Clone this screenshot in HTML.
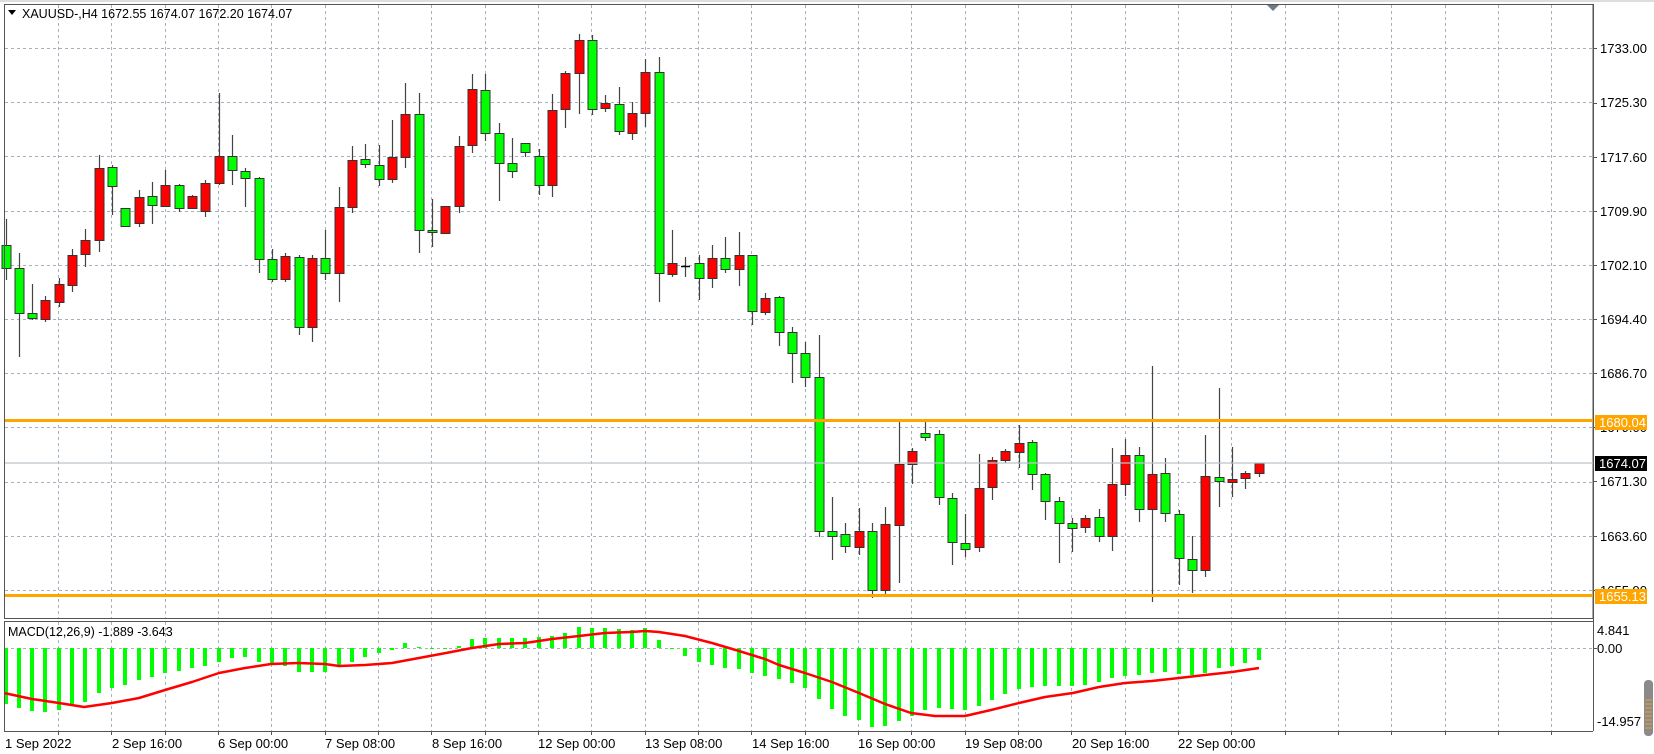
<!DOCTYPE html>
<html><head><meta charset="utf-8"><style>
html,body{margin:0;padding:0;background:#fff;}
svg{display:block;font-family:"Liberation Sans",sans-serif;}
</style></head><body>
<svg id="s" width="1654" height="754" viewBox="0 0 1654 754" xmlns="http://www.w3.org/2000/svg">
<rect x="0" y="0" width="1654" height="754" fill="#fff"/>
<g id="grid"></g>
<g id="candles"></g>
<g id="macd"></g>
<!-- frames -->
<rect x="4.5" y="4.5" width="1588.5" height="614" fill="none" stroke="#555" stroke-width="1"/>
<line x1="4" y1="621.5" x2="1593" y2="621.5" stroke="#555" stroke-width="1"/>
<line x1="4" y1="731.5" x2="1593" y2="731.5" stroke="#555" stroke-width="1"/>
<line x1="4.5" y1="621" x2="4.5" y2="731" stroke="#555"/>
<line x1="1593.5" y1="4" x2="1593.5" y2="731" stroke="#555"/>
<line x1="0" y1="1" x2="1654" y2="1" stroke="#bbb"/>
<!-- top triangle -->
<polygon points="1267,5 1279,5 1273,11" fill="#6c7a8a"/>
<!-- title -->
<polygon points="8,10 16,10 12,15" fill="#000"/>
<text x="22" y="18" font-size="12.5" fill="#000">XAUUSD-,H4  1672.55 1674.07 1672.20 1674.07</text>
<text x="8" y="636" font-size="12.5" fill="#000">MACD(12,26,9) -1.889 -3.643</text>
<!-- price labels -->
<g font-size="13" fill="#000">
<text x="1600" y="53">1733.00</text>
<text x="1600" y="107">1725.30</text>
<text x="1600" y="162">1717.60</text>
<text x="1600" y="216">1709.90</text>
<text x="1600" y="270">1702.10</text>
<text x="1600" y="324">1694.40</text>
<text x="1600" y="378">1686.70</text>
<text x="1600" y="432">1679.00</text>
<text x="1600" y="486">1671.30</text>
<text x="1600" y="541">1663.60</text>
<text x="1600" y="595">1655.90</text>
<text x="1597" y="635">4.841</text>
<text x="1597" y="653">0.00</text>
<text x="1597" y="726">-14.957</text>
</g>
<g stroke="#555">
<line x1="1593" y1="48.5" x2="1597" y2="48.5"/><line x1="1593" y1="103.5" x2="1597" y2="103.5"/>
<line x1="1593" y1="157.5" x2="1597" y2="157.5"/><line x1="1593" y1="211.5" x2="1597" y2="211.5"/>
<line x1="1593" y1="265.5" x2="1597" y2="265.5"/><line x1="1593" y1="319.5" x2="1597" y2="319.5"/>
<line x1="1593" y1="373.5" x2="1597" y2="373.5"/><line x1="1593" y1="427.5" x2="1597" y2="427.5"/>
<line x1="1593" y1="481.5" x2="1597" y2="481.5"/><line x1="1593" y1="536.5" x2="1597" y2="536.5"/>
<line x1="1593" y1="590.5" x2="1597" y2="590.5"/><line x1="1593" y1="648.5" x2="1597" y2="648.5"/>
</g>
<!-- horizontal levels -->
<line x1="5" y1="420.5" x2="1593" y2="420.5" stroke="#ffa500" stroke-width="3"/>
<line x1="5" y1="595.5" x2="1593" y2="595.5" stroke="#ffa500" stroke-width="3"/>
<line x1="5" y1="463" x2="1593" y2="463" stroke="#bcc3cb" stroke-width="1.2"/>
<rect x="1595" y="415" width="52" height="15" fill="#ffa500"/>
<text x="1599" y="427" font-size="13" fill="#fff">1680.04</text>
<rect x="1595" y="589" width="52" height="15" fill="#ffa500"/>
<text x="1599" y="601" font-size="13" fill="#fff">1655.13</text>
<rect x="1595" y="456" width="52" height="15" fill="#000"/>
<text x="1599" y="468" font-size="13" fill="#fff">1674.07</text>
<!-- time labels -->
<g font-size="13" fill="#000">
<text x="5" y="748">1 Sep 2022</text>
<text x="112" y="748">2 Sep 16:00</text>
<text x="218" y="748">6 Sep 00:00</text>
<text x="325" y="748">7 Sep 08:00</text>
<text x="432" y="748">8 Sep 16:00</text>
<text x="538" y="748">12 Sep 00:00</text>
<text x="645" y="748">13 Sep 08:00</text>
<text x="752" y="748">14 Sep 16:00</text>
<text x="858" y="748">16 Sep 00:00</text>
<text x="965" y="748">19 Sep 08:00</text>
<text x="1072" y="748">20 Sep 16:00</text>
<text x="1178" y="748">22 Sep 00:00</text>
</g>
<!-- scroll widget -->
<rect x="1644" y="680" width="9" height="56" rx="4" fill="#8a8a8a"/>
<g stroke="#f0a030" stroke-width="1"><line x1="1645" y1="700" x2="1652" y2="700"/><line x1="1645" y1="704" x2="1652" y2="704"/><line x1="1645" y1="708" x2="1652" y2="708"/><line x1="1645" y1="712" x2="1652" y2="712"/><line x1="1645" y1="716" x2="1652" y2="716"/><line x1="1645" y1="720" x2="1652" y2="720"/><line x1="1645" y1="724" x2="1652" y2="724"/><line x1="1645" y1="728" x2="1652" y2="728"/></g>
</svg>
<script>
var NS="http://www.w3.org/2000/svg";
function el(p,t,a){var e=document.createElementNS(NS,t);for(var k in a)e.setAttribute(k,a[k]);p.appendChild(e);return e;}
var g=document.getElementById("grid");
var gc="#a7b1bd";
for(var k=0;k<=10;k++){var y=Math.round(48+54.2*k)+0.5;el(g,"line",{x1:5,y1:y,x2:1593,y2:y,stroke:gc,"stroke-dasharray":"3,3"});}
for(var k=0;k<=28;k++){var x=Math.round(58+53.333*k)+0.5;el(g,"line",{x1:x,y1:5,x2:x,y2:618,stroke:gc,"stroke-dasharray":"3,3"});el(g,"line",{x1:x,y1:622,x2:x,y2:731,stroke:gc,"stroke-dasharray":"3,3"});el(g,"line",{x1:x,y1:731,x2:x,y2:735,stroke:"#555"});}
el(g,"line",{x1:5,y1:648.5,x2:1593,y2:648.5,stroke:gc,"stroke-dasharray":"3,3"});
var C=[[219,280,245,268,'g'],[253,357,268,313,'g'],[284,320,313,318,'g'],[296,322,300,319,'r'],[278,307,284,302,'r'],[249,292,255,285,'r'],[229,267,240,254,'r'],[155,252,168,240,'r'],[165,215,167,186,'g'],[208,226,208,226,'g'],[190,227,197,223,'r'],[182,224,196,205,'g'],[170,207,185,206,'r'],[184,212,185,208,'g'],[195,209,196,208,'r'],[180,217,183,211,'r'],[93,185,156,183,'r'],[135,185,156,170,'g'],[168,207,171,178,'g'],[177,273,178,259,'g'],[249,282,259,279,'g'],[253,282,256,279,'r'],[255,335,257,327,'g'],[255,342,258,327,'r'],[230,280,258,273,'g'],[187,302,207,273,'r'],[146,213,160,207,'r'],[144,168,159,164,'g'],[145,186,165,179,'g'],[120,183,157,179,'r'],[83,168,114,157,'r'],[93,253,114,230,'g'],[199,247,230,232,'g'],[206,233,206,233,'r'],[136,213,146,206,'r'],[74,153,89,145,'r'],[74,141,90,133,'g'],[123,201,133,163,'g'],[138,178,163,171,'g'],[143,157,143,152,'g'],[149,195,156,185,'g'],[94,197,110,185,'r'],[71,128,73,109,'r'],[34,114,40,73,'r'],[35,115,40,109,'g'],[95,112,103,108,'r'],[87,135,104,131,'g'],[102,140,113,133,'r'],[59,127,72,113,'r'],[57,302,72,273,'g'],[230,277,263,274,'r'],[257,277,266,267,'k'],[255,300,263,278,'g'],[245,288,258,278,'r'],[237,273,258,269,'g'],[232,286,255,269,'r'],[255,325,255,311,'g'],[293,315,298,312,'r'],[296,346,297,332,'g'],[327,383,332,353,'g'],[342,387,353,377,'g'],[335,537,377,531,'g'],[497,560,531,536,'g'],[523,553,534,546,'g'],[508,555,531,547,'r'],[523,598,531,590,'g'],[507,597,524,590,'r'],[421,583,464,525,'r'],[448,484,451,464,'r'],[422,441,433,437,'g'],[430,505,434,497,'g'],[493,565,498,542,'g'],[514,557,543,549,'g'],[454,552,488,547,'r'],[457,500,460,487,'r'],[449,463,451,460,'r'],[425,468,443,452,'r'],[440,490,442,474,'g'],[473,520,474,501,'g'],[497,563,501,523,'g'],[518,552,523,528,'g'],[515,533,518,527,'r'],[509,542,517,536,'g'],[448,551,484,536,'r'],[439,496,455,484,'r'],[447,522,455,509,'g'],[366,602,474,509,'r'],[458,522,473,513,'g'],[510,585,514,558,'g'],[536,593,559,570,'g'],[435,577,476,570,'r'],[388,507,477,481,'g'],[447,497,479,482,'r'],[471,489,473,478,'r'],[463,477,463,473,'r']];
var cg=document.getElementById("candles");
for(var i=0;i<C.length;i++){var c=C[i];var x=Math.round(5.5+13.333*i)+0.5;
el(cg,"line",{x1:x,y1:c[0],x2:x,y2:c[1],stroke:"#444","stroke-width":1.2});
var h=Math.max(c[3]-c[2],1);
if(c[4]=='k'){el(cg,"line",{x1:x-4.5,y1:c[2]+0.5,x2:x+4.5,y2:c[2]+0.5,stroke:"#000","stroke-width":1.5});}
else el(cg,"rect",{x:x-4.5,y:c[2]+0.5,width:9,height:h,fill:c[4]=='g'?"#00ff00":"#ff0000",stroke:"#333","stroke-width":1});}
var H=[704,708,711,712,710,705,702,693,688,685,680,677,673,671,668,666,662,658,657,662,663,666,672,672,672,667,662,657,653,650,643,647,649,649,646,639,638,638,638,638,637,636,633,627,628,628,629,630,628,640,648,656,662,665,668,669,673,676,679,683,688,699,709,716,720,727,726,721,716,710,708,709,710,706,700,694,689,687,686,686,686,685,682,678,676,675,673,672,674,675,673,668,666,663,660];
var mg=document.getElementById("macd");
for(var i=0;i<H.length;i++){var x=Math.round(5.5+13.333*i);var y0=648,y1=H[i];var t=Math.min(y0,y1),b=Math.max(y0,y1);if(b-t<1)b=t+1;
el(mg,"rect",{x:x-2,y:t,width:4,height:b-t,fill:"#00ff00"});}
var S=[[4,693],[32,699],[59,703],[84,707],[112,703],[139,698],[165,690],[192,682],[219,673],[245,668],[271,664],[298,663],[325,664],[339,666],[365,665],[392,663],[419,658],[446,653],[472,648],[499,644],[525,643],[552,639],[579,636],[605,633],[631,632],[645,631],[659,632],[685,636],[712,643],[739,651],[765,659],[779,665],[805,673],[832,682],[859,693],[885,704],[911,713],[935,716],[965,716],[991,710],[1019,703],[1045,697],[1073,693],[1099,687],[1125,683],[1152,681],[1179,678],[1205,675],[1232,672],[1259,668]];
el(mg,"polyline",{points:S.map(function(p){return p.join(",")}).join(" "),fill:"none",stroke:"#ff0000","stroke-width":2.5,"stroke-linejoin":"round"});
</script>
</body></html>
